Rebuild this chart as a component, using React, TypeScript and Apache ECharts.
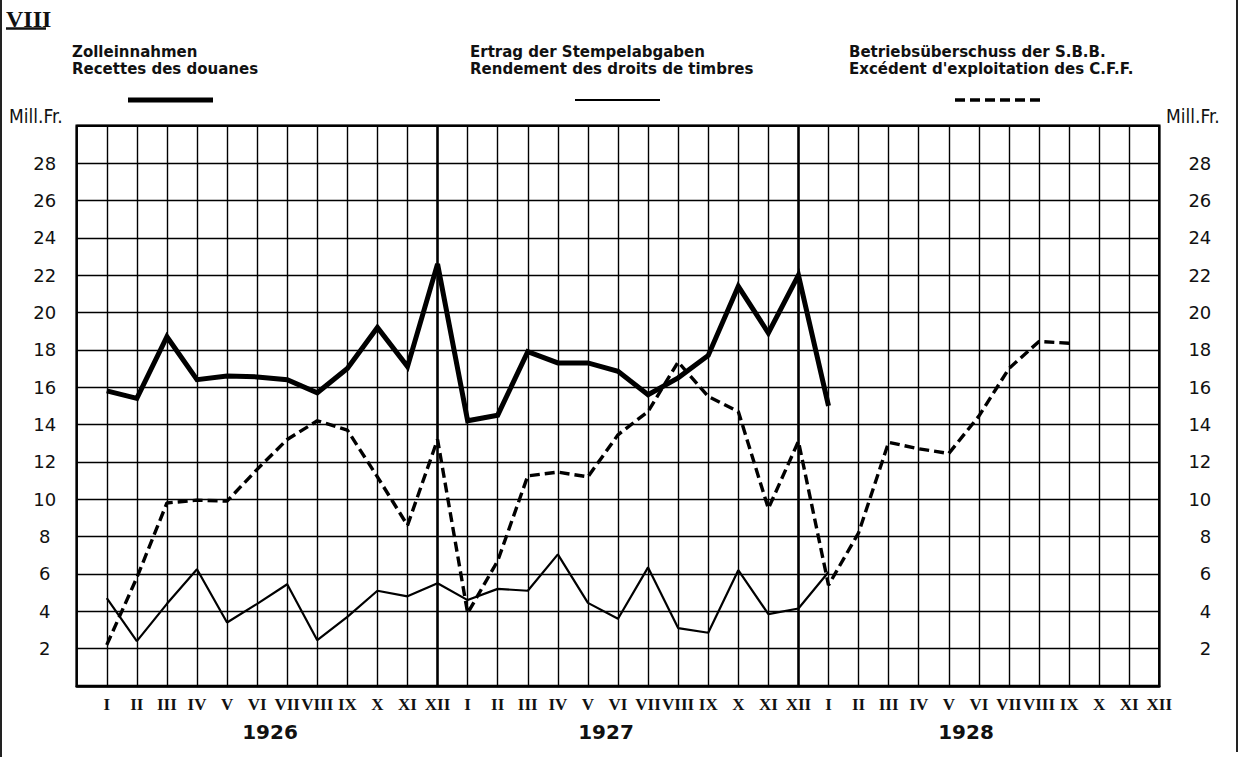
import React, { useEffect, useRef } from "react";
import * as echarts from "echarts";

const months = ["I", "II", "III", "IV", "V", "VI", "VII", "VIII", "IX", "X", "XI", "XII"];
const monthLabels = ["", ...months, ...months, ...months];
const years = ["1926", "1927", "1928"];
const yearLabelX = [270, 606, 966];
const yearSeparators = [12, 24];

// Zolleinnahmen (Jan 1926 - Jan 1928)
const customs = [15.8, 15.4, 18.7, 16.4, 16.6, 16.55, 16.4, 15.7, 17.0, 19.2, 17.1, 22.6,
  14.2, 14.5, 17.9, 17.3, 17.3, 16.85, 15.6, 16.5, 17.7, 21.4, 18.9, 22.0,
  15.0];
// Ertrag der Stempelabgaben (Jan 1926 - Jan 1928)
const stamps = [4.7, 2.4, 4.4, 6.25, 3.4, 4.4, 5.45, 2.45, 3.7, 5.1, 4.8, 5.5,
  4.6, 5.2, 5.1, 7.05, 4.45, 3.6, 6.35, 3.1, 2.85, 6.2, 3.85, 4.15,
  6.1];
// Betriebsüberschuss der S.B.B. (Jan 1926 - Sep 1928)
const sbb = [2.2, 5.8, 9.8, 9.95, 9.9, 11.6, 13.2, 14.2, 13.7, 11.2, 8.6, 13.2,
  3.9, 6.7, 11.25, 11.45, 11.2, 13.45, 14.7, 17.35, 15.5, 14.7, 9.5, 13.1,
  5.4, 8.2, 13.05, 12.7, 12.45, 14.45, 17.0, 18.45, 18.35];

const yTicks = { min: 0, max: 30, interval: 2 };

const numFont = "'DejaVu Sans', sans-serif";

export default function App() {
  const ref = useRef<HTMLDivElement>(null);
  useEffect(() => {
    if (!ref.current) return;
    const chart = echarts.init(ref.current, null, { renderer: "svg" });
    const yLabelFmt = (v: number) => (v === yTicks.min || v === yTicks.max ? "" : String(v));
    const legendItems = [
      { x: 72, l1: "Zolleinnahmen", l2: "Recettes des douanes", lx1: 128, lx2: 213, w: 5, dash: null as any },
      { x: 470, l1: "Ertrag der Stempelabgaben", l2: "Rendement des droits de timbres", lx1: 575, lx2: 660, w: 2, dash: null as any },
      { x: 849, l1: "Betriebsüberschuss der S.B.B.", l2: "Excédent d'exploitation des C.F.F.", lx1: 955, lx2: 1040, w: 3.5, dash: [10, 5] },
    ];
    const txt = (text: string, x: number, y: number, size: number, family: string, weight: string, align = "left") => ({
      type: "text",
      x,
      y,
      style: { text, fontSize: size, fontFamily: family, fontWeight: weight, fill: "#111", align, verticalAlign: "middle" },
    });
    const graphics: any[] = [];
    legendItems.forEach((it) => {
      graphics.push(txt(it.l1, it.x, 52, 15, "'DejaVu Sans', sans-serif", "bold"));
      graphics.push(txt(it.l2, it.x, 69, 15, "'DejaVu Sans', sans-serif", "bold"));
      graphics.push({
        type: "line",
        shape: { x1: it.lx1, y1: 100, x2: it.lx2, y2: 100 },
        style: { stroke: "#000", lineWidth: it.w, lineDash: it.dash || undefined },
      });
    });
    years.forEach((yr, i) => {
      graphics.push(txt(yr, yearLabelX[i], 732, 20, "'DejaVu Sans', sans-serif", "bold", "center"));
    });
    graphics.push(txt("VIII", 6, 19, 24, "'Liberation Serif', serif", "bold"));
    graphics.push({ type: "line", shape: { x1: 6, y1: 28.5, x2: 46, y2: 28.5 }, style: { stroke: "#111", lineWidth: 2.5 } });
    graphics.push(txt("Mill.Fr.", 9, 116, 19, "'DejaVu Sans Condensed', 'Liberation Sans Narrow', sans-serif", "normal"));
    graphics.push(txt("Mill.Fr.", 1166, 116, 19, "'DejaVu Sans Condensed', 'Liberation Sans Narrow', sans-serif", "normal"));
    // page frame
    graphics.push({ type: "line", shape: { x1: 1, y1: 0, x2: 1, y2: 757 }, style: { stroke: "#222", lineWidth: 2 } });
    graphics.push({ type: "line", shape: { x1: 1237, y1: 0, x2: 1237, y2: 752 }, style: { stroke: "#222", lineWidth: 2 } });

    const option: any = {
      animation: false,
      backgroundColor: "#fff",
      grid: {
        left: 76.7,
        right: 80.7,
        top: 125.7,
        bottom: 71,
        show: true,
        borderColor: "#000",
        borderWidth: 2.5,
        backgroundColor: "transparent",
      },
      xAxis: {
        type: "category",
        data: monthLabels,
        boundaryGap: false,
        axisLine: { show: true, lineStyle: { color: "#000", width: 2.5 } },
        axisTick: { show: false },
        axisLabel: {
          interval: 0,
          margin: 10,
          color: "#111",
          fontFamily: "'Liberation Serif', serif",
          fontWeight: "bold",
          fontSize: 17,
        },
        splitLine: { show: true, lineStyle: { color: "#000", width: 1.4 } },
      },
      yAxis: [
        {
          type: "value",
          ...yTicks,
          position: "left",
          axisLine: { show: false },
          axisTick: { show: false },
          axisLabel: { formatter: yLabelFmt, align: "center", margin: 32, color: "#111", fontFamily: numFont, fontSize: 18 },
          splitLine: { show: true, lineStyle: { color: "#000", width: 1.4 } },
        },
        {
          type: "value",
          ...yTicks,
          position: "right",
          axisLine: { show: false },
          axisTick: { show: false },
          axisLabel: { formatter: yLabelFmt, align: "right", margin: 52, color: "#111", fontFamily: numFont, fontSize: 18 },
          splitLine: { show: false },
        },
      ],
      graphic: graphics,
      series: [
        {
          name: "Zolleinnahmen",
          type: "line",
          data: [null, ...customs],
          symbol: "none",
          lineStyle: { color: "#000", width: 5, join: "miter" },
          markLine: {
            silent: true,
            symbol: "none",
            label: { show: false },
            lineStyle: { color: "#000", width: 2.5, type: "solid" },
            data: yearSeparators.map((i) => ({ xAxis: i })),
          },
        },
        {
          name: "Ertrag der Stempelabgaben",
          type: "line",
          data: [null, ...stamps],
          symbol: "none",
          lineStyle: { color: "#000", width: 2.2 },
        },
        {
          name: "Betriebsüberschuss der S.B.B.",
          type: "line",
          data: [null, ...sbb],
          symbol: "none",
          lineStyle: { color: "#000", width: 3.4, type: [10, 5] },
        },
      ],
    };
    chart.setOption(option);
    return () => chart.dispose();
  }, []);
  return <div ref={ref} style={{ position: "absolute", left: 0, top: 0, width: 1240, height: 757, background: "#fff" }} />;
}
